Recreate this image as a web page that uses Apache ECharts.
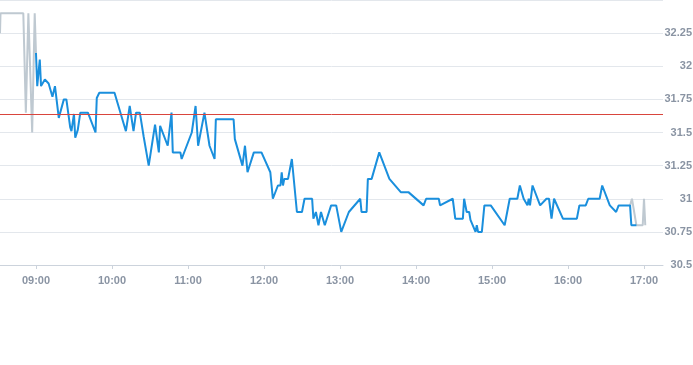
<!DOCTYPE html>
<html>
<head>
<meta charset="utf-8">
<script src="https://cdn.jsdelivr.net/npm/echarts@6/dist/echarts.min.js"></script>
<style>html,body{margin:0;padding:0;background:#fff}#c{width:693px;height:365px}</style>
</head>
<body>
<div id="c"></div>
<script>
// Extended-hours (grey) series
const preTimes = ['08:31:36','08:32','08:50','08:52','08:54','08:57','08:59','09:00'];
const preValues = [32.25,32.40,32.40,31.65,32.40,31.50,32.40,32.10];
const postTimes = ['16:49','16:50:30','16:54','16:59','17:00','17:01'];
const postValues = [30.95,31.00,30.80,30.80,31.00,30.80];
// Regular session (blue) series
const mainTimes = ['09:00','09:01','09:03','09:04','09:05','09:07','09:10','09:13','09:15','09:18','09:19','09:22','09:24','09:27','09:28','09:30','09:31','09:33','09:35','09:41','09:47','09:48','09:50','10:02','10:03','10:11','10:14','10:17','10:19','10:22','10:25','10:29','10:34','10:37','10:38','10:44','10:47','10:48','10:54','10:55','11:03','11:06','11:08','11:13','11:17','11:21','11:22','11:36','11:37','11:43','11:45','11:47','11:52','11:58','12:05','12:07','12:11','12:13','12:14','12:15','12:16','12:19','12:22','12:26','12:30','12:32','12:38','12:39','12:41','12:43','12:45','12:48','12:53','12:57','13:01','13:07','13:16','13:17','13:21','13:22','13:25','13:31','13:39','13:48','13:54','14:06','14:08','14:18','14:19','14:29','14:31','14:37','14:38','14:40','14:42','14:43','14:47','14:48','14:49','14:52','14:54','14:59','15:10','15:14','15:20','15:22','15:25','15:28','15:29','15:30','15:32','15:38','15:43','15:45','15:47','15:49','15:56','16:07','16:09','16:14','16:16','16:25','16:27','16:33','16:38','16:40','16:49','16:50','16:54'];
const mainValues = [32.10,31.85,32.05,31.85,31.85,31.90,31.87,31.77,31.85,31.61,31.61,31.75,31.75,31.54,31.51,31.64,31.46,31.52,31.65,31.65,31.50,31.76,31.80,31.80,31.80,31.51,31.70,31.51,31.65,31.65,31.47,31.25,31.56,31.35,31.55,31.40,31.65,31.35,31.35,31.30,31.50,31.70,31.40,31.65,31.40,31.30,31.60,31.60,31.45,31.25,31.40,31.20,31.35,31.35,31.20,31.00,31.10,31.10,31.20,31.10,31.15,31.15,31.30,30.90,30.90,31.00,31.00,30.85,30.90,30.80,30.90,30.80,30.95,30.95,30.75,30.90,31.00,30.90,30.90,31.15,31.15,31.35,31.15,31.05,31.05,30.95,31.00,31.00,30.95,31.00,30.85,30.85,31.00,30.90,30.90,30.84,30.75,30.80,30.75,30.75,30.95,30.95,30.80,31.00,31.00,31.10,31.00,30.95,31.00,30.95,31.10,30.95,31.00,31.00,30.85,31.00,30.85,30.85,30.95,30.95,31.00,31.00,31.10,30.95,30.90,30.95,30.95,30.80,30.80];
const prevClose = 31.645;
const hourLabels = ['09:00','10:00','11:00','12:00','13:00','14:00','15:00','16:00','17:00'];
const yTicks = ['30.5','30.75','31','31.25','31.5','31.75','32','32.25'];
const xStart = '08:31:36', xEnd = '17:15';

function toMin(t){const p=t.split(':').map(Number);return p[0]*60+p[1]+(p[2]||0)/60;}
function pair(ts,vs){return ts.map((t,i)=>[toMin(t),vs[i]]);}
function pad(n){return (n<10?'0':'')+n;}
const hourVals = hourLabels.map(toMin);

const chart = echarts.init(document.getElementById('c'));
chart.setOption({
  animation:false,
  grid:{left:0,right:30,top:0,bottom:100,containLabel:false,outerBoundsMode:'none'},
  xAxis:{
    type:'value',min:toMin(xStart),max:toMin(xEnd),
    axisLine:{show:true,lineStyle:{color:'#ccd3dc',width:1}},
    axisTick:{show:true,length:4,customValues:hourVals,lineStyle:{color:'#ccd3dc'}},
    splitLine:{show:false},
    axisLabel:{color:'#8a94a3',fontSize:11,fontWeight:'bold',fontFamily:'Liberation Sans, Arial, sans-serif',margin:10,
      customValues:hourVals,
      formatter:v=>pad(Math.floor(v/60))+':'+pad(Math.round(v%60))}
  },
  yAxis:{
    type:'value',position:'right',min:30.5,max:32.5,interval:0.25,
    axisLine:{show:false},axisTick:{show:false},
    splitLine:{show:true,lineStyle:{color:'#e3e7ec',width:1}},
    axisLabel:{color:'#8a94a3',fontSize:11,fontWeight:'bold',fontFamily:'Liberation Sans, Arial, sans-serif',align:'right',margin:29,
      showMaxLabel:false,
      formatter:v=>{const s=String(+v.toFixed(2));return yTicks.indexOf(s)>=0?s:'';}}
  },
  series:[
    {type:'line',data:pair(preTimes,preValues),showSymbol:false,symbol:'none',lineStyle:{color:'#bfc9d1',width:2},z:2},
    {type:'line',data:pair(postTimes,postValues),showSymbol:false,symbol:'none',lineStyle:{color:'#bfc9d1',width:2},z:2},
    {type:'line',data:pair(mainTimes,mainValues),showSymbol:false,symbol:'none',lineStyle:{color:'#1a8fdd',width:2},z:3,
      markLine:{silent:true,symbol:'none',label:{show:false},lineStyle:{color:'#d9453d',width:1,type:'solid'},data:[{yAxis:prevClose}]}}
  ]
});
</script>
</body>
</html>
